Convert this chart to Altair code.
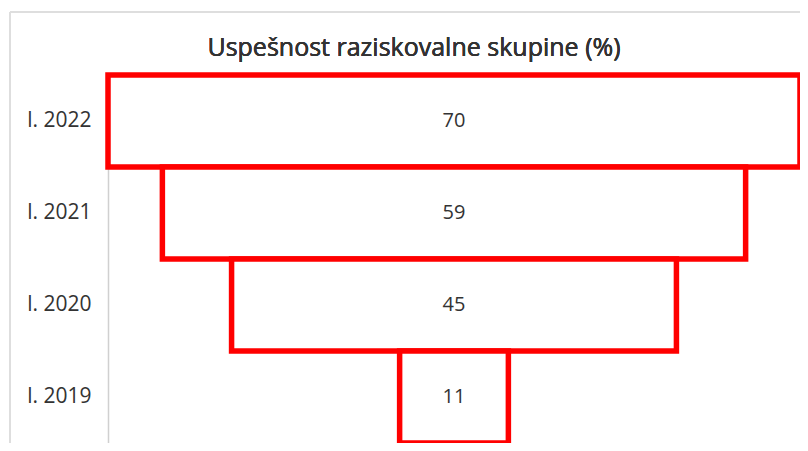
import altair as alt
import pandas as pd

years = ["l. 2022", "l. 2021", "l. 2020", "l. 2019"]
values = [70, 59, 45, 11]
title_text = "Uspešnost raziskovalne skupine (%)"

df = pd.DataFrame({"leto": years, "vrednost": values})
df["lo"] = -df["vrednost"] / 2
df["hi"] = df["vrednost"] / 2
df["zero"] = 0

FONT = "Open Sans"
TXT = "#333333"
RED = "#ff0000"

yenc = alt.Y(
    "leto:N",
    sort=years,
    scale=alt.Scale(paddingInner=0, paddingOuter=0),
    axis=alt.Axis(
        title=None,
        ticks=False,
        grid=False,
        domain=True,
        domainColor="#d0d0d0",
        domainWidth=1.5,
        labelFont=FONT,
        labelFontSize=21,
        labelColor=TXT,
        labelPadding=17,
    ),
)
xscale = alt.Scale(domain=[-35, 35], nice=False, zero=False)

bars = alt.Chart(df).mark_bar(
    fill="white", stroke=RED, strokeWidth=5.5, strokeJoin="miter"
).encode(
    x=alt.X("lo:Q", scale=xscale, axis=None),
    x2="hi:Q",
    y=yenc,
)

labels = alt.Chart(df).mark_text(
    font=FONT, fontSize=20, color=TXT
).encode(
    x=alt.X("zero:Q", scale=xscale, axis=None),
    y=alt.Y("leto:N", sort=years),
    text="vrednost:Q",
)

title = alt.Chart(df).mark_text(
    font=FONT, fontSize=25, color=TXT, baseline="alphabetic", align="center"
).encode(
    x=alt.value(306), y=alt.value(-19), text=alt.value(title_text)
)

frame_left = alt.Chart(df).mark_rule(color="#dedede", strokeWidth=1.5).encode(
    x=alt.value(-98), y=alt.value(-63), y2=alt.value(380)
)
frame_top = alt.Chart(df).mark_rule(color="#dedede", strokeWidth=1.5).encode(
    x=alt.value(-98), x2=alt.value(692), y=alt.value(-63)
)

chart = alt.layer(frame_left, frame_top, bars, labels, title).properties(
    width=692,
    height=368,
    autosize=alt.AutoSizeParams(type="none"),
    padding={"left": 100, "top": 67, "right": 0, "bottom": 0},
).configure_view(stroke=None).configure_axis(labelLimit=200)

chart.save("out.html", embed_options={"renderer": "svg", "actions": False})
